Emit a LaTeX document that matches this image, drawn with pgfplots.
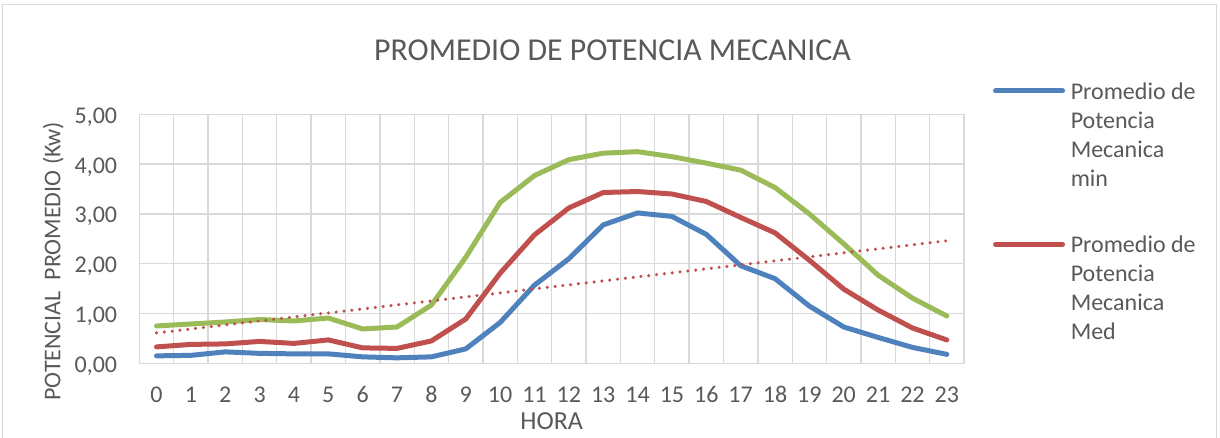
\documentclass[border=0pt]{standalone}
\usepackage{fontspec}
\setmainfont{Carlito}
\usepackage{pgfplots}
\pgfplotsset{compat=1.18}
\usepackage{pgfplotstable}
\definecolor{cblue}{HTML}{4F81BD}
\definecolor{cred}{HTML}{C0504D}
\definecolor{cgreen}{HTML}{9BBB59}
\definecolor{cgrid}{HTML}{D9D9D9}
\definecolor{ctext}{HTML}{595959}

\pgfplotstableread{
hora min med max
0 0.15 0.33 0.75
1 0.16 0.38 0.79
2 0.23 0.39 0.83
3 0.20 0.44 0.88
4 0.19 0.40 0.85
5 0.19 0.47 0.91
6 0.13 0.31 0.69
7 0.11 0.30 0.73
8 0.13 0.45 1.17
9 0.29 0.89 2.13
10 0.82 1.81 3.23
11 1.57 2.58 3.77
12 2.10 3.12 4.09
13 2.78 3.43 4.22
14 3.02 3.45 4.25
15 2.95 3.40 4.15
16 2.59 3.25 4.02
17 1.96 2.93 3.88
18 1.70 2.62 3.53
19 1.15 2.07 3.00
20 0.73 1.49 2.40
21 0.52 1.07 1.77
22 0.32 0.71 1.31
23 0.18 0.47 0.95
}\datatable

\pgfplotstableread{
hora trend
0 0.61
23 2.46
}\trendtable

\newcommand{\tfont}{\fontsize{18}{21}\selectfont}

\begin{document}
\begin{tikzpicture}
\useasboundingbox (0,0) rectangle (915pt,328.5pt);
\draw[cgrid, line width=0.9pt] (2pt,-15pt) rectangle (912.5pt,325pt);
\node[text=ctext, font=\fontsize{23.9}{28}\selectfont, anchor=base, inner sep=0pt] at (459.4pt,282.75pt) {PROMEDIO DE POTENCIA MECANICA};
\begin{axis}[
  at={(104.5pt,56pt)}, anchor=south west,
  scale only axis, width=618.5pt, height=186.75pt,
  xmin=-0.5, xmax=23.5, ymin=0, ymax=5,
  xtick={0,...,23}, ytick={0,...,5},
  minor xtick={-0.5,0.5,...,23.5},
  xminorgrids=true, xmajorgrids=false, ymajorgrids=true,
  grid style={cgrid, line width=1pt},
  minor grid style={cgrid, line width=1pt},
  axis line style={cgrid, line width=1pt},
  major tick length=0pt, minor tick length=0pt,
  tick style={draw=none},
  /pgf/number format/assume math mode=true,
  ticklabel style={text=ctext, font=\tfont},
  xticklabel style={inner sep=0pt, anchor=base, yshift=-29.25pt},
  yticklabel style={inner sep=0pt, anchor=base east, xshift=-16.5pt, yshift=-6.75pt,
    /pgf/number format/.cd, use comma, fixed, fixed zerofill, precision=2},
  xlabel={HORA},
  xlabel style={at={(axis description cs:0.5,0)}, anchor=base, inner sep=0pt, yshift=-50pt, text=ctext, font=\fontsize{19.5}{23}\selectfont},
  ylabel={POTENCIAL\ \ PROMEDIO (Kw)},
  ylabel style={at={(axis description cs:-0.1043,0.41)}, anchor=center, inner sep=0pt, text=ctext, font=\tfont},
  legend style={at={(axis description cs:1.0352,1.1269)}, anchor=north west, draw=none, fill=none,
    inner sep=0pt, outer sep=0pt, column sep=4.3pt, row sep=101pt,
    cells={anchor=base west},
    nodes={inner sep=0pt, text=ctext, font=\tfont}},
  legend image code/.code={\draw[#1, line cap=round] (1.875pt,6.3pt) -- (52.125pt,6.3pt);},
]
\addplot[cblue, line width=3.75pt, line join=round, line cap=round] table[x=hora,y=min] {\datatable};
\addlegendentry{\vtop{\baselineskip=21.75pt\hbox{Promedio de}\hbox{Potencia}\hbox{Mecanica}\hbox{min}}}
\addplot[cred, line width=3.75pt, line join=round, line cap=round] table[x=hora,y=med] {\datatable};
\addlegendentry{\vtop{\baselineskip=21.75pt\hbox{Promedio de}\hbox{Potencia}\hbox{Mecanica}\hbox{Med}}}
\addplot[cgreen, line width=3.75pt, line join=round, line cap=round, forget plot] table[x=hora,y=max] {\datatable};
\addplot[cred, line width=2.6pt, line cap=round, dash pattern=on 0pt off 5.9pt, forget plot] table[x=hora,y=trend] {\trendtable};
\end{axis}
\end{tikzpicture}
\end{document}
